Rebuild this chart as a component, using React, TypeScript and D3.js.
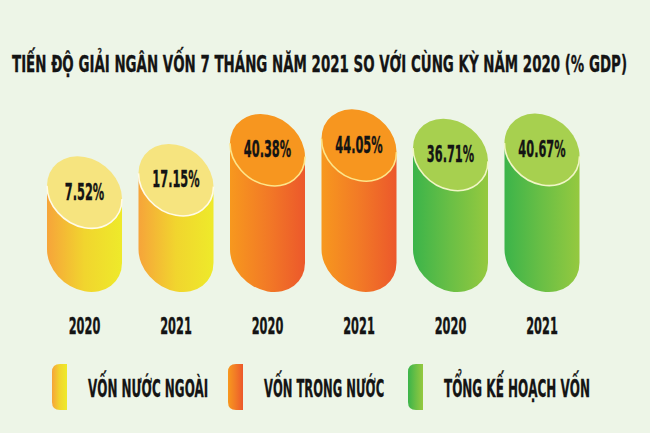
import React from "react";
import * as d3 from "d3";

const TITLE = "TIẾN ĐỘ GIẢI NGÂN VỐN 7 THÁNG  NĂM 2021 SO VỚI CÙNG KỲ NĂM 2020 (% GDP)";
const years = ["2020", "2021"];
const groupNames = ["VỐN NƯỚC NGOÀI", "VỐN TRONG NƯỚC", "TỔNG KẾ HOẠCH VỐN"];
const foreignValues = [7.52, 17.15];
const domesticValues = [40.38, 44.05];
const totalValues = [36.71, 40.67];

const WIDTH = 650;
const HEIGHT = 433;
const FONT = "'DejaVu Sans', 'Liberation Sans', sans-serif";
const CHAR_W = 7.9; // condensed glyph width of the poster font at 23px

// body gradient stops, top face colour, rim colour per group
const STYLES = [
  { stops: ["#f6a43a", "#f1d52e", "#eeea2a"], top: "#f6e47f", rim: "#fffbe8" },
  { stops: ["#f7981e", "#f27a26", "#ec582b"], top: "#f7961f", rim: "#fde58a" },
  { stops: ["#3bb44a", "#6abf45", "#95c93f"], top: "#a7d04f", rim: "#f1f6c6" },
];

// ellipse of each cylinder face: half width, half height, xy skew
const HW = 37.5;
const HH = 36;
const SKEW = 250;
const BOTTOM = 292;

function ellipseParams() {
  const sxx = HW * HW;
  const syy = HH * HH;
  const mid = (sxx + syy) / 2;
  const d = Math.sqrt(((sxx - syy) / 2) ** 2 + SKEW * SKEW);
  const a = Math.sqrt(mid + d);
  const b = Math.sqrt(mid - d);
  const phi = (0.5 * Math.atan2(2 * SKEW, sxx - syy) * 180) / Math.PI;
  return { a, b, phi };
}

let ctx: CanvasRenderingContext2D | null = null;
function measure(text: string, size: number) {
  if (!ctx) ctx = document.createElement("canvas").getContext("2d");
  if (!ctx) return text.length * size * 0.7;
  ctx.font = `bold ${size}px 'DejaVu Sans'`;
  return ctx.measureText(text).width;
}

// squeezes the text horizontally to the poster font's narrow width
function Label(props: { x: number; y: number; text: string; size: number; anchor?: string; dy?: string; len?: number }) {
  const len = props.len ?? props.text.length * CHAR_W * (props.size / 23);
  const sx = len / measure(props.text, props.size);
  return (
    <text
      transform={`translate(${props.x},${props.y}) scale(${sx},1)`}
      textAnchor={props.anchor ?? "start"}
      dy={props.dy}
      fontFamily={FONT}
      fontWeight="bold"
      fontSize={props.size}
      fill="#141414"
      stroke="#141414"
      strokeWidth={0.35}
    >
      {props.text}
    </text>
  );
}

export default function App() {
  const rows = [foreignValues, domesticValues, totalValues].flatMap((vals, g) =>
    vals.map((v, i) => ({ group: g, year: years[i], value: v, key: `${g}-${i}` }))
  );

  const x = d3
    .scalePoint<string>()
    .domain(rows.map((r) => r.key))
    .range([84.5, 542]);

  // top of each cylinder
  const top = d3.scaleLinear().domain([0, 45]).range([BOTTOM - 126, BOTTOM - 184]);

  const { a, b, phi } = ellipseParams();
  const dy = SKEW / HW;
  const cyB = BOTTOM - HH;

  const legendX = [52, 228, 408];

  return (
    <div>
      <style>{`body{margin:0;background:#edf5e7}`}</style>
      <svg width={WIDTH} height={HEIGHT} style={{ display: "block" }}>
        <defs>
          {STYLES.map((s, g) => (
            <linearGradient id={`body${g}`} key={g} x1="0" x2="1" y1="0" y2="0">
              <stop offset="0" stopColor={s.stops[0]} />
              <stop offset="0.5" stopColor={s.stops[1]} />
              <stop offset="1" stopColor={s.stops[2]} />
            </linearGradient>
          ))}
        </defs>
        <rect width={WIDTH} height={HEIGHT} fill="#edf5e7" />

        <Label x={12} y={72} text={TITLE} size={23} len={620} />

        {rows.map((r) => {
          const cx = x(r.key) as number;
          const cyT = top(r.value) + HH;
          const s = STYLES[r.group];
          const body = `M${cx - HW},${cyT - dy} L${cx - HW},${cyB - dy} A${a},${b} ${phi} 0 0 ${cx + HW},${cyB + dy} L${cx + HW},${cyT + dy} Z`;
          const rim = `M${cx - HW},${cyT - dy} A${a},${b} ${phi} 0 0 ${cx + HW},${cyT + dy}`;
          return (
            <g key={r.key}>
              <path d={body} fill={`url(#body${r.group})`} />
              <ellipse
                cx={cx}
                cy={cyT}
                rx={a}
                ry={b}
                transform={`rotate(${phi} ${cx} ${cyT})`}
                fill={s.top}
              />
              <path d={rim} fill="none" stroke={s.rim} strokeWidth={1.6} />
              <Label x={cx} y={cyT - 1} dy="0.36em" text={`${r.value.toFixed(2)}%`} size={23} anchor="middle" />
              <Label x={cx} y={334} text={r.year} size={23} anchor="middle" />
            </g>
          );
        })}

        {groupNames.map((name, g) => {
          const lx = legendX[g];
          const y0 = 364;
          const h = 46;
          const w = 15;
          const rr = 8;
          const sw = `M${lx + w},${y0} L${lx + rr},${y0} Q${lx},${y0} ${lx},${y0 + rr} L${lx},${y0 + h - rr} Q${lx},${y0 + h} ${lx + rr},${y0 + h} L${lx + w},${y0 + h} Z`;
          return <path key={name} d={sw} fill={`url(#body${g})`} />;
        })}
        {groupNames.map((name, g) => (
          <Label key={name} x={legendX[g] + 36} y={397} text={name} size={25} />
        ))}
      </svg>
    </div>
  );
}
